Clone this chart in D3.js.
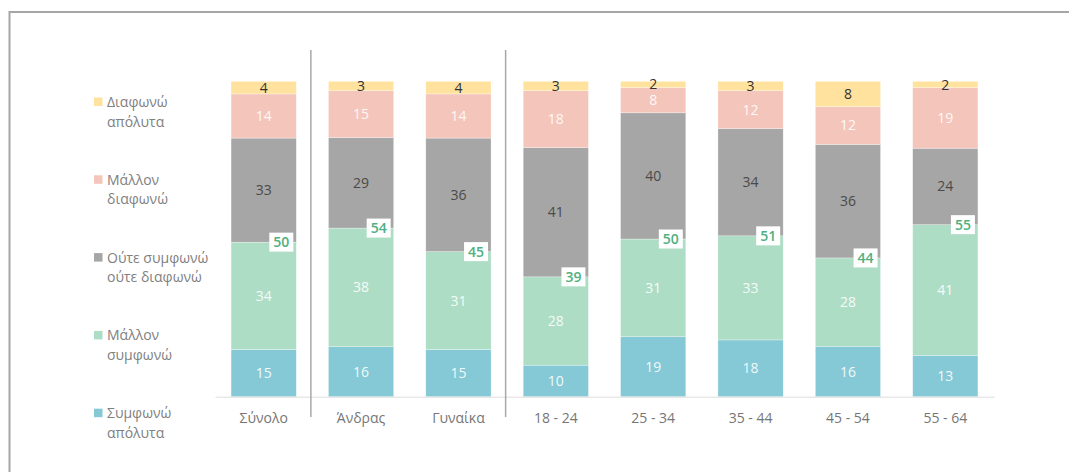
<!DOCTYPE html>
<html>
<head>
<meta charset="utf-8">
<script src="https://cdn.jsdelivr.net/npm/d3@7"></script>
<style>
  html, body { margin: 0; padding: 0; background: #fff; }
  svg { display: block; font-family: "Open Sans", "Noto Sans", sans-serif; }
</style>
</head>
<body>
<svg id="chart" width="1069" height="472"></svg>
<script>
// Groups shown along the bottom axis
const categories = ["Σύνολο", "Άνδρας", "Γυναίκα", "18 - 24", "25 - 34", "35 - 44", "45 - 54", "55 - 64"];

// Answer shares per group (%), from bottom of the stack to top
const symfonoApolyta   = [15, 16, 15, 10, 19, 18, 16, 13];
const mallonSymfono    = [34, 38, 31, 28, 31, 33, 28, 41];
const oyteOyte         = [33, 29, 36, 41, 40, 34, 36, 24];
const mallonDiafono    = [14, 15, 14, 18,  8, 12, 12, 19];
const diafonoApolyta   = [ 4,  3,  4,  3,  2,  3,  8,  2];

// Total agreement per group (%), rounded from the unrounded shares
const totalAgree       = [50, 54, 45, 39, 50, 51, 44, 55];

// Series names as printed in the legend (two lines each)
const seriesNames = [
  ["Συμφωνώ", "απόλυτα"],
  ["Μάλλον", "συμφωνώ"],
  ["Ούτε συμφωνώ", "ούτε διαφωνώ"],
  ["Μάλλον", "διαφωνώ"],
  ["Διαφωνώ", "απόλυτα"]
];

// Groups after which a vertical divider is drawn
const dividersAfter = ["Σύνολο", "Γυναίκα"];

const seriesValues = [symfonoApolyta, mallonSymfono, oyteOyte, mallonDiafono, diafonoApolyta];
const colors = ["#85c9d6", "#aeddc5", "#a6a6a6", "#f4c5bb", "#ffe29e"];
const labelColors = ["rgba(255,255,255,0.9)", "rgba(255,255,255,0.9)", "#4a4a4a", "rgba(255,255,255,0.9)", "#333"];

const keys = seriesNames.map((d, i) => "s" + i);
const rows = categories.map((c, j) => {
  const r = { category: c, total: totalAgree[j] };
  keys.forEach((k, i) => r[k] = seriesValues[i][j]);
  return r;
});

const svg = d3.select("#chart");

// Frame lines along the top and left
svg.append("line").attr("x1", 9.5).attr("x2", 1069).attr("y1", 12).attr("y2", 12)
  .attr("stroke", "#a6a6a6").attr("stroke-width", 2);
svg.append("line").attr("x1", 9.5).attr("x2", 9.5).attr("y1", 11).attr("y2", 472)
  .attr("stroke", "#a6a6a6").attr("stroke-width", 2);

const x = d3.scaleBand().domain(categories).range([215, 994])
  .paddingInner(0.33).paddingOuter(0.165);
const y = d3.scaleLinear().domain([0, 1]).range([396.7, 81.3]);

const stacked = d3.stack().keys(keys).offset(d3.stackOffsetExpand)(rows);

// Stacked 100% bars
const layers = svg.append("g").selectAll("g").data(stacked).join("g")
  .attr("fill", (d, i) => colors[i]);

layers.selectAll("rect").data(d => d).join("rect")
  .attr("x", d => x(d.data.category))
  .attr("width", x.bandwidth())
  .attr("y", d => y(d[1]))
  .attr("height", d => y(d[0]) - y(d[1]))
  .attr("stroke", "#fff").attr("stroke-width", 0.5).attr("stroke-opacity", 0.6);

// Value labels inside segments
stacked.forEach((layer, i) => {
  svg.append("g").selectAll("text").data(layer).join("text")
    .attr("x", d => x(d.data.category) + x.bandwidth() / 2)
    .attr("y", d => (y(d[0]) + y(d[1])) / 2)
    .attr("dy", "0.36em")
    .attr("text-anchor", "middle")
    .attr("font-size", 14)
    .attr("fill", labelColors[i])
    .text(d => d.data[layer.key]);
});

// Total agreement boxes, sitting on the top edge of the "Μάλλον συμφωνώ" segment
const agreeLayer = stacked[1];
const boxes = svg.append("g").selectAll("g").data(agreeLayer).join("g")
  .attr("transform", d => `translate(${x(d.data.category) + x.bandwidth() - 3},${y(d[1])})`);
boxes.append("rect")
  .attr("x", -24).attr("y", -9.5).attr("width", 24).attr("height", 19)
  .attr("fill", "#fff");
boxes.append("text")
  .attr("x", -12).attr("y", 0).attr("dy", "0.36em")
  .attr("text-anchor", "middle")
  .attr("font-size", 14).attr("font-weight", 600)
  .attr("fill", "#4fb080")
  .text(d => d.data.total);

// Bottom axis
const axis = svg.append("g").attr("transform", `translate(0,${y(0)})`)
  .call(d3.axisBottom(x).tickSize(0).tickSizeOuter(0).tickPadding(16));
axis.select(".domain").attr("stroke", "#dcdcdc").attr("stroke-width", 1);
axis.selectAll("text")
  .attr("font-family", "\"Open Sans\", sans-serif")
  .attr("font-size", 14).attr("fill", "#767676");

// Group dividers
const step = x.step();
svg.append("g").selectAll("line").data(dividersAfter).join("line")
  .attr("x1", d => x(d) + x.bandwidth() + (step - x.bandwidth()) / 2 - 1.5)
  .attr("x2", d => x(d) + x.bandwidth() + (step - x.bandwidth()) / 2 - 1.5)
  .attr("y1", 50).attr("y2", 417)
  .attr("stroke", "#a8a8a8").attr("stroke-width", 1.5);

// Legend, top entry is the top of the stack
const legendOrder = d3.range(seriesNames.length).reverse();
const legend = svg.append("g").selectAll("g").data(legendOrder).join("g")
  .attr("transform", (d, i) => `translate(94,${102 + i * 77.8})`);
legend.append("rect")
  .attr("x", 0).attr("y", -4.5).attr("width", 8.5).attr("height", 8.5)
  .attr("fill", d => colors[d]);
legend.append("text")
  .attr("x", 13).attr("y", 0).attr("dy", "0.36em")
  .attr("font-size", 14).attr("fill", "#808080")
  .selectAll("tspan").data(d => seriesNames[d]).join("tspan")
  .attr("x", 13)
  .attr("dy", (t, k) => k === 0 ? "0.36em" : 19.5)
  .text(t => t);
</script>
</body>
</html>
